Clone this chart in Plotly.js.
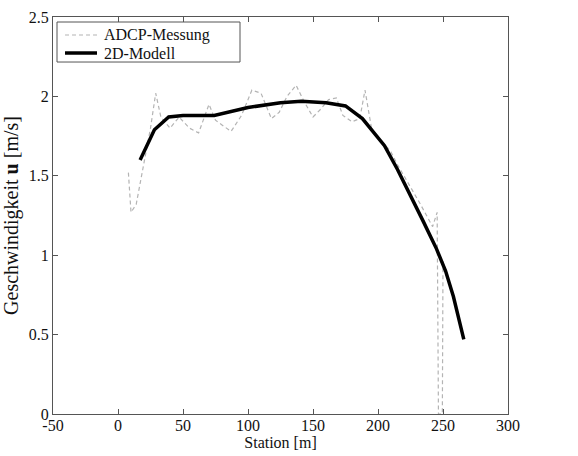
<!DOCTYPE html>
<html>
<head>
<meta charset="utf-8">
<script src="https://cdn.plot.ly/plotly-3.0.1.min.js"></script>
<style>html,body{margin:0;padding:0;background:#fff;}#chart{width:578px;height:456px;}</style>
</head>
<body>
<div id="chart"></div>
<script>
// ADCP measurement (grey dashed)
const adcpStation = [8, 9, 10, 14, 20, 25, 29, 33, 40, 47, 55, 62, 70, 75, 80, 87, 95, 103, 110, 118, 124, 130, 137, 143, 150, 156, 162, 168, 173, 180, 186, 190, 195, 200, 205, 210, 215, 220, 226, 232, 238, 242, 245.5, 246.5, 249.5, 250];
const adcpU = [1.52, 1.40, 1.27, 1.32, 1.58, 1.80, 2.02, 1.87, 1.80, 1.87, 1.80, 1.77, 1.95, 1.85, 1.82, 1.78, 1.88, 2.04, 2.02, 1.86, 1.90, 2.00, 2.07, 1.97, 1.87, 1.92, 1.98, 1.99, 1.88, 1.84, 1.86, 2.04, 1.80, 1.74, 1.70, 1.65, 1.57, 1.50, 1.42, 1.33, 1.24, 1.18, 1.27, 0, 0, 0.98];
// 2D model (black)
const modelStation = [17, 28, 39, 50, 74, 100, 125, 141, 160, 175, 188, 205, 215, 225, 235, 245, 252, 258, 266];
const modelU = [1.60, 1.79, 1.87, 1.88, 1.88, 1.93, 1.96, 1.97, 1.96, 1.94, 1.86, 1.69, 1.54, 1.38, 1.21, 1.04, 0.90, 0.74, 0.47];
// tick labels and legend labels
const xTickVals = [-50, 0, 50, 100, 150, 200, 250, 300];
const xTickText = ['-50', '0', '50', '100', '150', '200', '250', '300'];
const yTickVals = [0, 0.5, 1, 1.5, 2, 2.5];
const yTickText = ['0', '0.5', '1', '1.5', '2', '2.5'];
const seriesNames = ['ADCP-Messung', '2D-Modell'];

const serif = 'Liberation Serif, Times New Roman, serif';
const grey = '#b4b4b4';
const dashStyle = '4px,3px';
const traces = [
  {x: adcpStation, y: adcpU, type: 'scatter', mode: 'lines', name: seriesNames[0],
   line: {color: grey, width: 1.2, dash: dashStyle}},
  {x: modelStation, y: modelU, type: 'scatter', mode: 'lines', name: seriesNames[1],
   line: {color: '#000000', width: 3.5}}
];
const axisCommon = {showline: true, mirror: 'ticks', linecolor: '#555', linewidth: 1,
  ticks: 'inside', ticklen: 5, tickcolor: '#555', showgrid: false, zeroline: false,
  tickfont: {family: serif, size: 16, color: '#111'}};

// legend box drawn in paper coordinates
const legendShapes = [
  {type: 'rect', xref: 'paper', yref: 'paper', x0: 0.0088, x1: 0.411, y0: 0.8866, y1: 0.9874,
   line: {color: '#555', width: 1}, fillcolor: '#fff', layer: 'above'},
  {type: 'line', xref: 'paper', yref: 'paper', x0: 0.0264, x1: 0.1033, y0: 0.9547, y1: 0.9547,
   line: {color: grey, width: 1.2, dash: dashStyle}, layer: 'above'},
  {type: 'line', xref: 'paper', yref: 'paper', x0: 0.0264, x1: 0.0967, y0: 0.9093, y1: 0.9093,
   line: {color: '#000', width: 3.5}, layer: 'above'}
];
const legendAnn = [
  {xref: 'paper', yref: 'paper', x: 0.1077, y: 0.9547, xanchor: 'left', yanchor: 'middle',
   text: seriesNames[0], showarrow: false, font: {family: serif, size: 16, color: '#111'}},
  {xref: 'paper', yref: 'paper', x: 0.1077, y: 0.9093, xanchor: 'left', yanchor: 'middle',
   text: seriesNames[1], showarrow: false, font: {family: serif, size: 16, color: '#111'}}
];

const layout = {
  width: 578, height: 456,
  margin: {l: 53, r: 70, t: 17, b: 42},
  paper_bgcolor: '#fff', plot_bgcolor: '#fff',
  font: {family: serif, color: '#111'},
  showlegend: false,
  shapes: legendShapes,
  annotations: legendAnn,
  xaxis: Object.assign({}, axisCommon, {range: [-50, 300], tickvals: xTickVals, ticktext: xTickText,
    ticklabelstandoff: -3,
    title: {text: 'Station [m]', font: {family: serif, size: 16, color: '#111'}, standoff: 0}}),
  yaxis: Object.assign({}, axisCommon, {range: [0, 2.5], tickvals: yTickVals, ticktext: yTickText,
    title: {text: 'Geschwindigkeit <b>u</b> [m/s]', font: {family: serif, size: 20, color: '#111'}, standoff: 4}})
};
Plotly.newPlot('chart', traces, layout, {displayModeBar: false, staticPlot: true});
</script>
</body>
</html>
